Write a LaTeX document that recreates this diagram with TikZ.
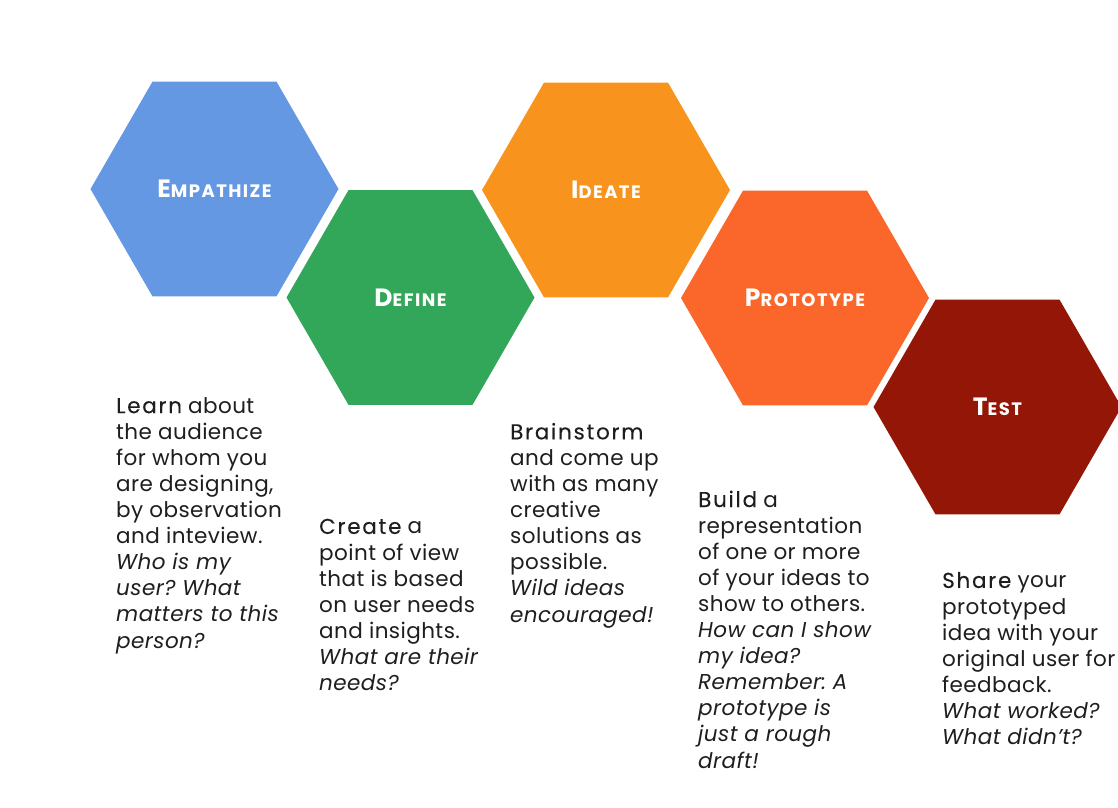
\documentclass[tikz,border=0pt]{standalone}
\usepackage{fontspec}
\setmainfont{Poppins}
\usetikzlibrary{shapes.geometric}
\frenchspacing
\definecolor{cEmp}{RGB}{100,152,226}
\definecolor{cDef}{RGB}{50,167,90}
\definecolor{cIde}{RGB}{248,148,30}
\definecolor{cPro}{RGB}{251,103,43}
\definecolor{cTes}{RGB}{148,22,6}
\definecolor{cTxt}{RGB}{30,30,30}
\newcommand{\hexlabel}[2]{{\fontsize{25}{25}\selectfont #1}{\fontsize{18}{18}\selectfont #2}}
\newcommand{\leadword}[1]{{\addfontfeature{LetterSpace=8,FakeBold=0.12}#1}}
\tikzset{
  hexa/.style={regular polygon, regular polygon sides=6, minimum size=248pt,
    inner sep=0pt, outer sep=0pt, fill=#1, draw=none, text=white,
    font=\bfseries\addfontfeature{LetterSpace=8}},
  body/.style={anchor=base west, align=left, inner sep=0pt, text=cTxt,
    font=\fontsize{21.5}{26.1}\selectfont\addfontfeature{LetterSpace=2}\frenchspacing}
}
\begin{document}
\begin{tikzpicture}[x=1pt,y=-1pt]
\useasboundingbox (0,0) rectangle (1118,807);
\begin{scope}
\clip (0,0) rectangle (1118,807);
\fill[white] (0,0) rectangle (1118,807);
\node[hexa=cEmp] (emp) at (214.5,189) {\hexlabel{E}{MPATHIZE}};
\node[hexa=cDef] (def) at (410.5,297.5) {\hexlabel{D}{EFINE}};
\node[hexa=cIde] (ide) at (606,190) {\hexlabel{I}{DEATE}};
\node[hexa=cPro] (pro) at (805,298) {\hexlabel{P}{ROTOTYPE}};
\node[hexa=cTes] (tes) at (997.5,407) {\hexlabel{T}{EST}};

\node[body] (tEmp) at (116,648) {\leadword{Learn} about\\the audience\\for whom you\\are designing,\\by observation\\and inteview.\\\textit{Who is my}\\\textit{user? What}\\\textit{matters to this}\\\textit{person?}};
\node[body] (tDef) at (319,690.5) {\leadword{Create} a\\point of view\\that is based\\on user needs\\and insights.\\\textit{What are their}\\\textit{needs?}};
\node[body] (tIde) at (510,622) {\leadword{Brainstorm}\\and come up\\with as many\\creative\\solutions as\\possible.\\\textit{Wild ideas}\\\textit{encouraged!}};
\node[body] (tPro) at (698,768) {\leadword{Build} a\\representation\\of one or more\\of your ideas to\\show to others.\\\textit{How can I show}\\\textit{my idea?}\\\textit{Remember: A}\\\textit{prototype is}\\\textit{just a rough}\\\textit{draft!}};
\node[body] (tTes) at (942,744.5) {\leadword{Share} your\\prototyped\\idea with your\\original user for\\feedback.\\\textit{What worked?}\\\textit{What didn’t?}};
\end{scope}
\end{tikzpicture}
\end{document}
